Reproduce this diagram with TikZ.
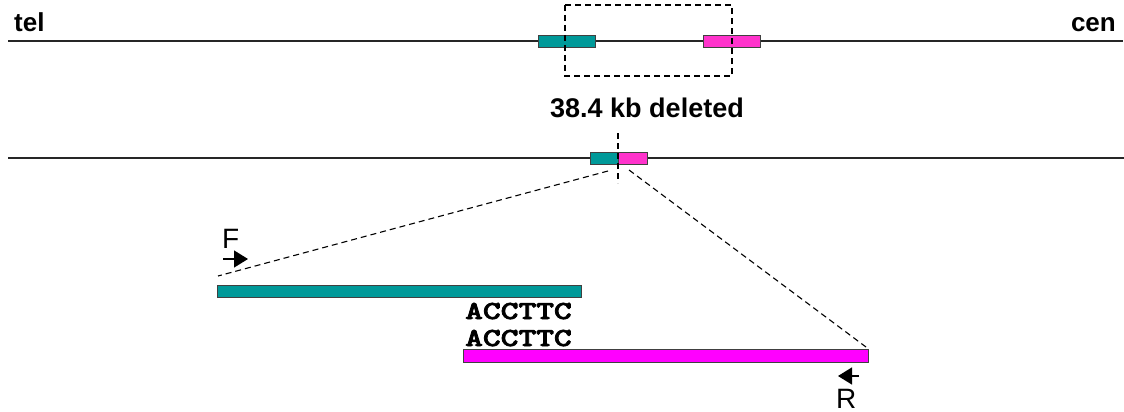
\documentclass[tikz,border=0pt]{standalone}
\usepackage{fontspec}
\usepackage{graphicx}
\setmainfont{Liberation Sans}
\newfontfamily\seqfont[Extension=.otf, FakeBold=2.5]{lmmonolt10-bold}
\usetikzlibrary{arrows.meta}
\definecolor{segteal}{RGB}{0,153,153}
\definecolor{segpink}{RGB}{255,51,204}
\definecolor{segmag}{RGB}{255,0,255}
\newcommand{\seqtext}[1]{\scalebox{1.3}[1]{\seqfont #1}}
\tikzset{
  chrom/.style={line width=1.3pt, black!85},
  seg/.style={draw=black!75, line width=0.9pt, inner sep=0pt, outer sep=0pt, anchor=north west},
  cut/.style={line width=1.1pt, dash pattern=on 6pt off 4pt},
  label/.style={inner sep=0pt, font=\bfseries\fontsize{26}{26}\selectfont},
  primer/.style={inner sep=0pt, font=\fontsize{28}{28}\selectfont},
  seq/.style={inner sep=0pt, font=\fontsize{26}{26}\selectfont},
  parrow/.style={line width=1.4pt, -{Triangle[length=14pt,width=17pt]}}
}
\begin{document}
\begin{tikzpicture}[x=1pt,y=-1pt]
\useasboundingbox (0,0) rectangle (1124,412);
% wild-type chromosome
\coordinate (w1) at (8,41);
\coordinate (w2) at (1123,41);
\draw[chrom] (w1) -- (w2);
\node[label, anchor=base west] (tel) at (14,32) {tel};
\node[label, anchor=base east] (cen) at (1116,32) {cen};
\node[seg, fill=segteal, minimum width=57pt, minimum height=12pt] (a1) at (538,35) {};
\node[seg, fill=segpink, minimum width=57pt, minimum height=12pt] (b1) at (703,35) {};
\draw[cut] (565,5) rectangle (732,76);
\node[label, font=\bfseries\fontsize{27}{27}\selectfont, anchor=base] (del) at (647,117) {38.4 kb deleted};
% deleted chromosome
\coordinate (d1) at (8,158);
\coordinate (d2) at (1124,158);
\draw[chrom] (d1) -- (d2);
\node[seg, fill=segteal, minimum width=28pt, minimum height=12pt] (a2) at (590,152) {};
\node[seg, fill=segpink, minimum width=29pt, minimum height=12pt] (b2) at (618,152) {};
\coordinate (j1) at (618,133);
\coordinate (j2) at (618,183);
\draw[cut] (j1) -- (j2);
% junction blow-up
\node[seg, fill=segteal, minimum width=364pt, minimum height=12pt] (a3) at (217,285) {};
\node[seg, fill=segmag, minimum width=405pt, minimum height=13pt] (b3) at (463,349) {};
\coordinate (zl) at (608,171);
\coordinate (zr) at (629,170);
\coordinate (el) at (218,276);
\coordinate (er) at (866,347);
\draw[cut] (zl) -- (el);
\draw[cut] (zr) -- (er);
\node[seq, anchor=base west] (s1) at (465,319) {\seqtext{ACCTTC}};
\node[seq, anchor=base west] (s2) at (465,346) {\seqtext{ACCTTC}};
% primers
\node[primer, anchor=base west] (F) at (222,248) {F};
\coordinate (f1) at (223,259);
\coordinate (f2) at (248,259);
\draw[parrow] (f1) -- (f2);
\node[primer, anchor=base west] (R) at (836,408) {R};
\coordinate (r1) at (859,376);
\coordinate (r2) at (838,376);
\draw[parrow] (r1) -- (r2);
\end{tikzpicture}
\end{document}
